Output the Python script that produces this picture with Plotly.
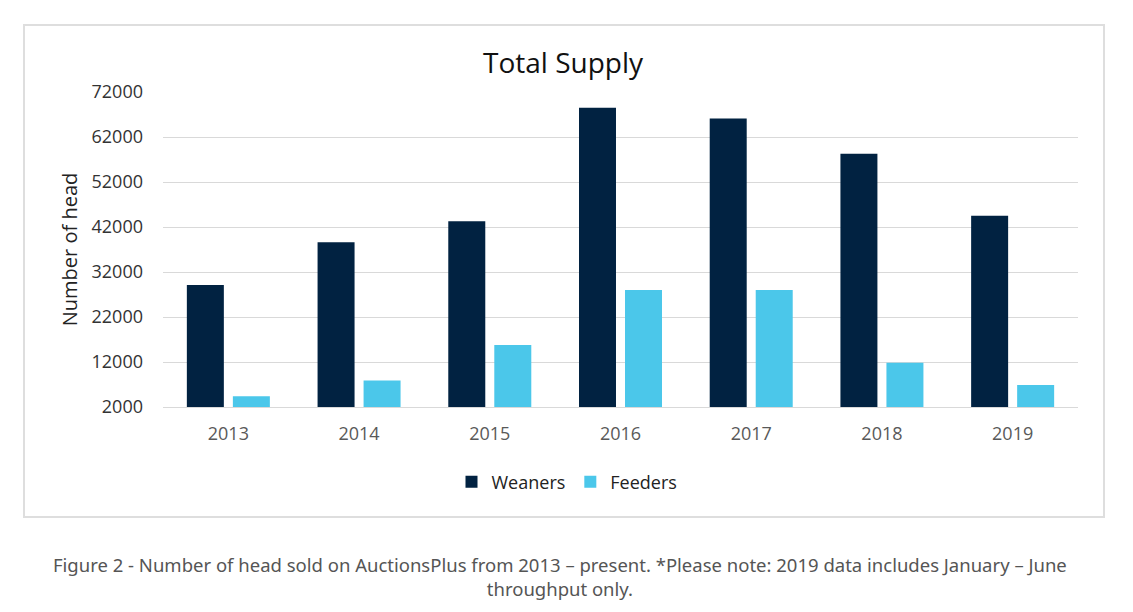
import plotly.graph_objects as go

years = ["2013", "2014", "2015", "2016", "2017", "2018", "2019"]
weaners = [29100, 38600, 43300, 68500, 66100, 58300, 44500]
feeders = [4400, 7900, 15800, 28000, 28000, 11850, 6900]
y_ticks = [2000, 12000, 22000, 32000, 42000, 52000, 62000, 72000]
y_tick_text = [str(v) for v in y_ticks]

NAVY = "#012241"
SKY = "#4bc7ea"
FONT = "Open Sans"

# page offset: the browser places the figure 8px in from the top-left corner
OFF = 8
PL, PR, PT, PB = 163 - OFF, 1078 - OFF, 92 - OFF, 407 - OFF  # plot area in figure px
PW, PH = PR - PL, PB - PT


def px(x):
    return (x - OFF - PL) / PW


def py(y):
    return (PB - (y - OFF)) / PH


fig = go.Figure()
fig.add_trace(go.Bar(name="Weaners", x=years, y=weaners, marker_color=NAVY, marker_line_width=0))
fig.add_trace(go.Bar(name="Feeders", x=years, y=feeders, marker_color=SKY, marker_line_width=0))

fig.update_layout(
    width=1133, height=612,
    margin=dict(l=PL, r=1133 - PR, t=PT, b=612 - PB),
    paper_bgcolor="white", plot_bgcolor="white",
    barmode="group", bargap=0.296, bargroupgap=0.196,
    font=dict(family=FONT, color="#595959"),
    title=dict(text="Total Supply", x=(563 - OFF) / 1133, xanchor="center",
               y=1 - (63 - OFF) / 612, yanchor="middle",
               font=dict(family=FONT, size=28, color="#111111")),
    showlegend=True,
    legend=dict(orientation="h", x=px(567), xanchor="center", y=py(482), yanchor="middle",
                font=dict(family=FONT, size=18, color="#222222"), itemwidth=30,
                traceorder="normal"),
    xaxis=dict(showgrid=False, showline=True, linecolor="#d9d9d9", linewidth=1,
               ticks="", ticklabelstandoff=10, tickfont=dict(family=FONT, size=18, color="#595959")),
    yaxis=dict(range=[2000, 72000], tickvals=y_ticks, ticktext=y_tick_text,
               showgrid=True, gridcolor="#d9d9d9", gridwidth=1,
               zeroline=False, showline=False, ticks="", ticklabelstandoff=19,
               tickfont=dict(family=FONT, size=18, color="#333333"),
               title=dict(text="Number of head", standoff=8,
                          font=dict(family=FONT, size=20, color="#222222"))),
)

# outer chart border
fig.add_shape(type="rect", xref="paper", yref="paper",
              x0=px(24), x1=px(1104), y0=py(517), y1=py(25),
              line=dict(color="#dedede", width=2), fillcolor="rgba(0,0,0,0)", layer="below")

# caption
fig.add_annotation(
    text="Figure 2 - Number of head sold on AuctionsPlus from 2013 – present. *Please note: 2019 data includes January – June<br>throughput only.",
    xref="paper", yref="paper", x=px(560), y=py(576),
    xanchor="center", yanchor="middle", showarrow=False, align="center",
    font=dict(family="Noto Sans", size=18.5, color="#555555"))

fig.write_html("out.html")
